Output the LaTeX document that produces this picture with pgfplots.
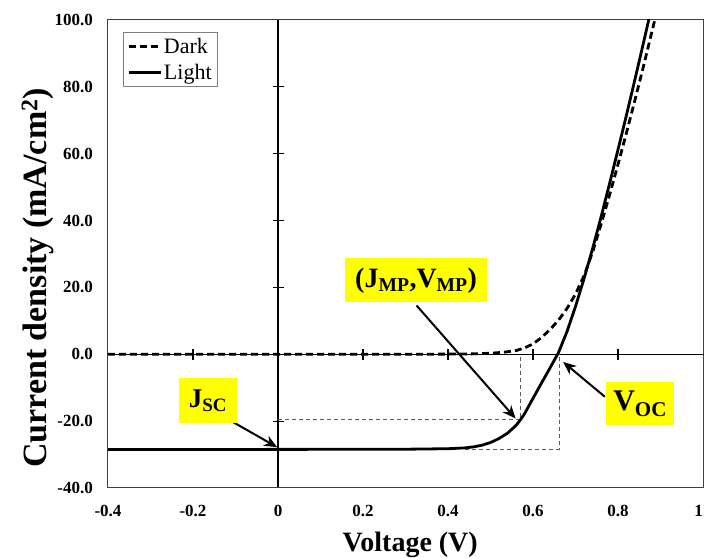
\documentclass[border=0pt]{standalone}
\usepackage{fontspec}
\setmainfont{Liberation Serif}
\usepackage{pgfplots}
\pgfplotsset{compat=1.18}
\usetikzlibrary{arrows.meta}
\definecolor{hl}{RGB}{255,255,0}
\definecolor{guide}{RGB}{90,90,90}

\begin{document}
\begin{tikzpicture}
% zero lines with crossing ticks
\begin{axis}[
  scale only axis, width=595pt, height=468pt,
  xmin=-0.4, xmax=1.0, ymin=-40, ymax=100,
  axis lines=middle,
  axis line style={-, black, line width=1.2pt},
  xtick={-0.2,0.2,0.4,0.6,0.8}, ytick={-20,20,40,60,80},
  xticklabels={}, yticklabels={},
  tick align=center, major tick length=11pt,
  tick style={black, line width=1.2pt},
]
\end{axis}
\begin{axis}[
  name=main,
  scale only axis, width=595pt, height=468pt,
  xmin=-0.4, xmax=1.0, ymin=-40, ymax=100,
  axis line style={draw=black!75, line width=1pt},
  xtick={-0.4,-0.2,0,0.2,0.4,0.6,0.8},
  xticklabels={-0.4,-0.2,0,0.2,0.4,0.6,0.8},
  extra x ticks={1.0}, extra x tick labels={1},
  extra x tick style={xticklabel style={anchor=base east}},
  ytick={-40,-20,0,20,40,60,80,100},
  yticklabels={-40.0,-20.0,0.0,20.0,40.0,60.0,80.0,100.0},
  major tick length=0pt,
  tick label style={font=\fontsize{17}{17}\selectfont\bfseries, inner sep=0pt},
  xticklabel style={anchor=base, yshift=-29pt},
  yticklabel style={anchor=east, xshift=-15pt},
  xlabel={Voltage (V)},
  xlabel style={font=\fontsize{28}{28}\selectfont\bfseries, at={(rel axis cs:0.508,0)}, anchor=base, yshift=-64pt},
  ylabel={Current density (mA/cm\textsuperscript{2})},
  ylabel style={font=\fontsize{34}{34}\selectfont\bfseries, at={(rel axis cs:-0.118,0.449)}, anchor=center},
  legend style={at={(0.025,0.975)}, anchor=north west, draw=black!50, line width=0.6pt,
    font=\fontsize{22}{22}\selectfont, inner xsep=4pt, inner ysep=4pt, row sep=5pt},
  legend cell align=left,
  legend image code/.code={\draw[#1] (0pt,0pt) -- (32pt,0pt);},
]
% guide lines
\addplot[guide, line width=0.8pt, dash pattern=on 4pt off 3pt, forget plot]
  coordinates {(0,-19.5) (0.571,-19.5) (0.571,0)};
\addplot[guide, line width=0.8pt, dash pattern=on 4pt off 3pt, forget plot]
  coordinates {(0.44,-28.45) (0.661,-28.45) (0.661,0)};
% Dark
\addplot[black, line width=2.8pt, dash pattern=on 7pt off 4pt] coordinates {
 (-0.40,0) (-0.20,0) (0.00,0) (0.20,0) (0.30,0.01) (0.40,0.05) (0.45,0.1)
 (0.50,0.3) (0.53,0.6) (0.56,1.1) (0.58,1.9) (0.60,3.1) (0.62,5.0) (0.64,7.4)
 (0.66,10.2) (0.68,13.7) (0.70,18.0) (0.72,23.5) (0.74,30.5) (0.76,38.8)
 (0.78,47.6) (0.80,56.8) (0.82,66.3) (0.84,76.1) (0.86,86.2) (0.88,96.6) (0.90,107.0)
};
\addlegendentry{Dark}
% Light
\addplot[black, line width=2.8pt] coordinates {
 (-0.40,-28.5) (-0.20,-28.48) (0.00,-28.45) (0.20,-28.42) (0.30,-28.4) (0.40,-28.25)
 (0.44,-28.0) (0.46,-27.7) (0.48,-27.2) (0.50,-26.4) (0.52,-25.2) (0.54,-23.6)
 (0.56,-21.3) (0.571,-19.5) (0.58,-17.8) (0.60,-13.2) (0.62,-8.6) (0.64,-4.1)
 (0.66,0.5) (0.68,6.8) (0.70,14.3) (0.72,22.6) (0.74,31.5) (0.76,41.0)
 (0.78,51.0) (0.80,61.2) (0.82,71.6) (0.84,82.3) (0.86,93.2) (0.88,104.3)
};
\addlegendentry{Light}
% annotations
\draw[black, line width=2pt, -{Stealth[length=13pt,width=11pt]}] (axis cs:-0.118,-19.4) -- (axis cs:-0.002,-27.8);
\draw[black, line width=2pt, -{Stealth[length=13pt,width=11pt]}] (axis cs:0.326,14.6) -- (axis cs:0.559,-19.2);
\draw[black, line width=2pt, -{Stealth[length=13pt,width=11pt]}] (axis cs:0.769,-12.7) -- (axis cs:0.671,-2.3);
\node[fill=hl, inner sep=0pt, minimum width=58pt, minimum height=45pt, font=\fontsize{27}{27}\selectfont\bfseries]
  at (axis cs:-0.165,-13.9) {J\textsubscript{SC}};
\node[fill=hl, inner sep=0pt, minimum width=142pt, minimum height=44pt, font=\fontsize{28}{28}\selectfont\bfseries]
  at (axis cs:0.325,22.1) {(J\textsubscript{MP},V\textsubscript{MP})};
\node[fill=hl, inner sep=0pt, minimum width=68pt, minimum height=43pt, font=\fontsize{30}{30}\selectfont\bfseries]
  at (axis cs:0.852,-14.8) {V\textsubscript{OC}};
\end{axis}
\pgfresetboundingbox
\path[use as bounding box] ([shift={(-108pt,-70pt)}]main.south west) rectangle ([shift={(1pt,20pt)}]main.north east);
\end{tikzpicture}
\end{document}
